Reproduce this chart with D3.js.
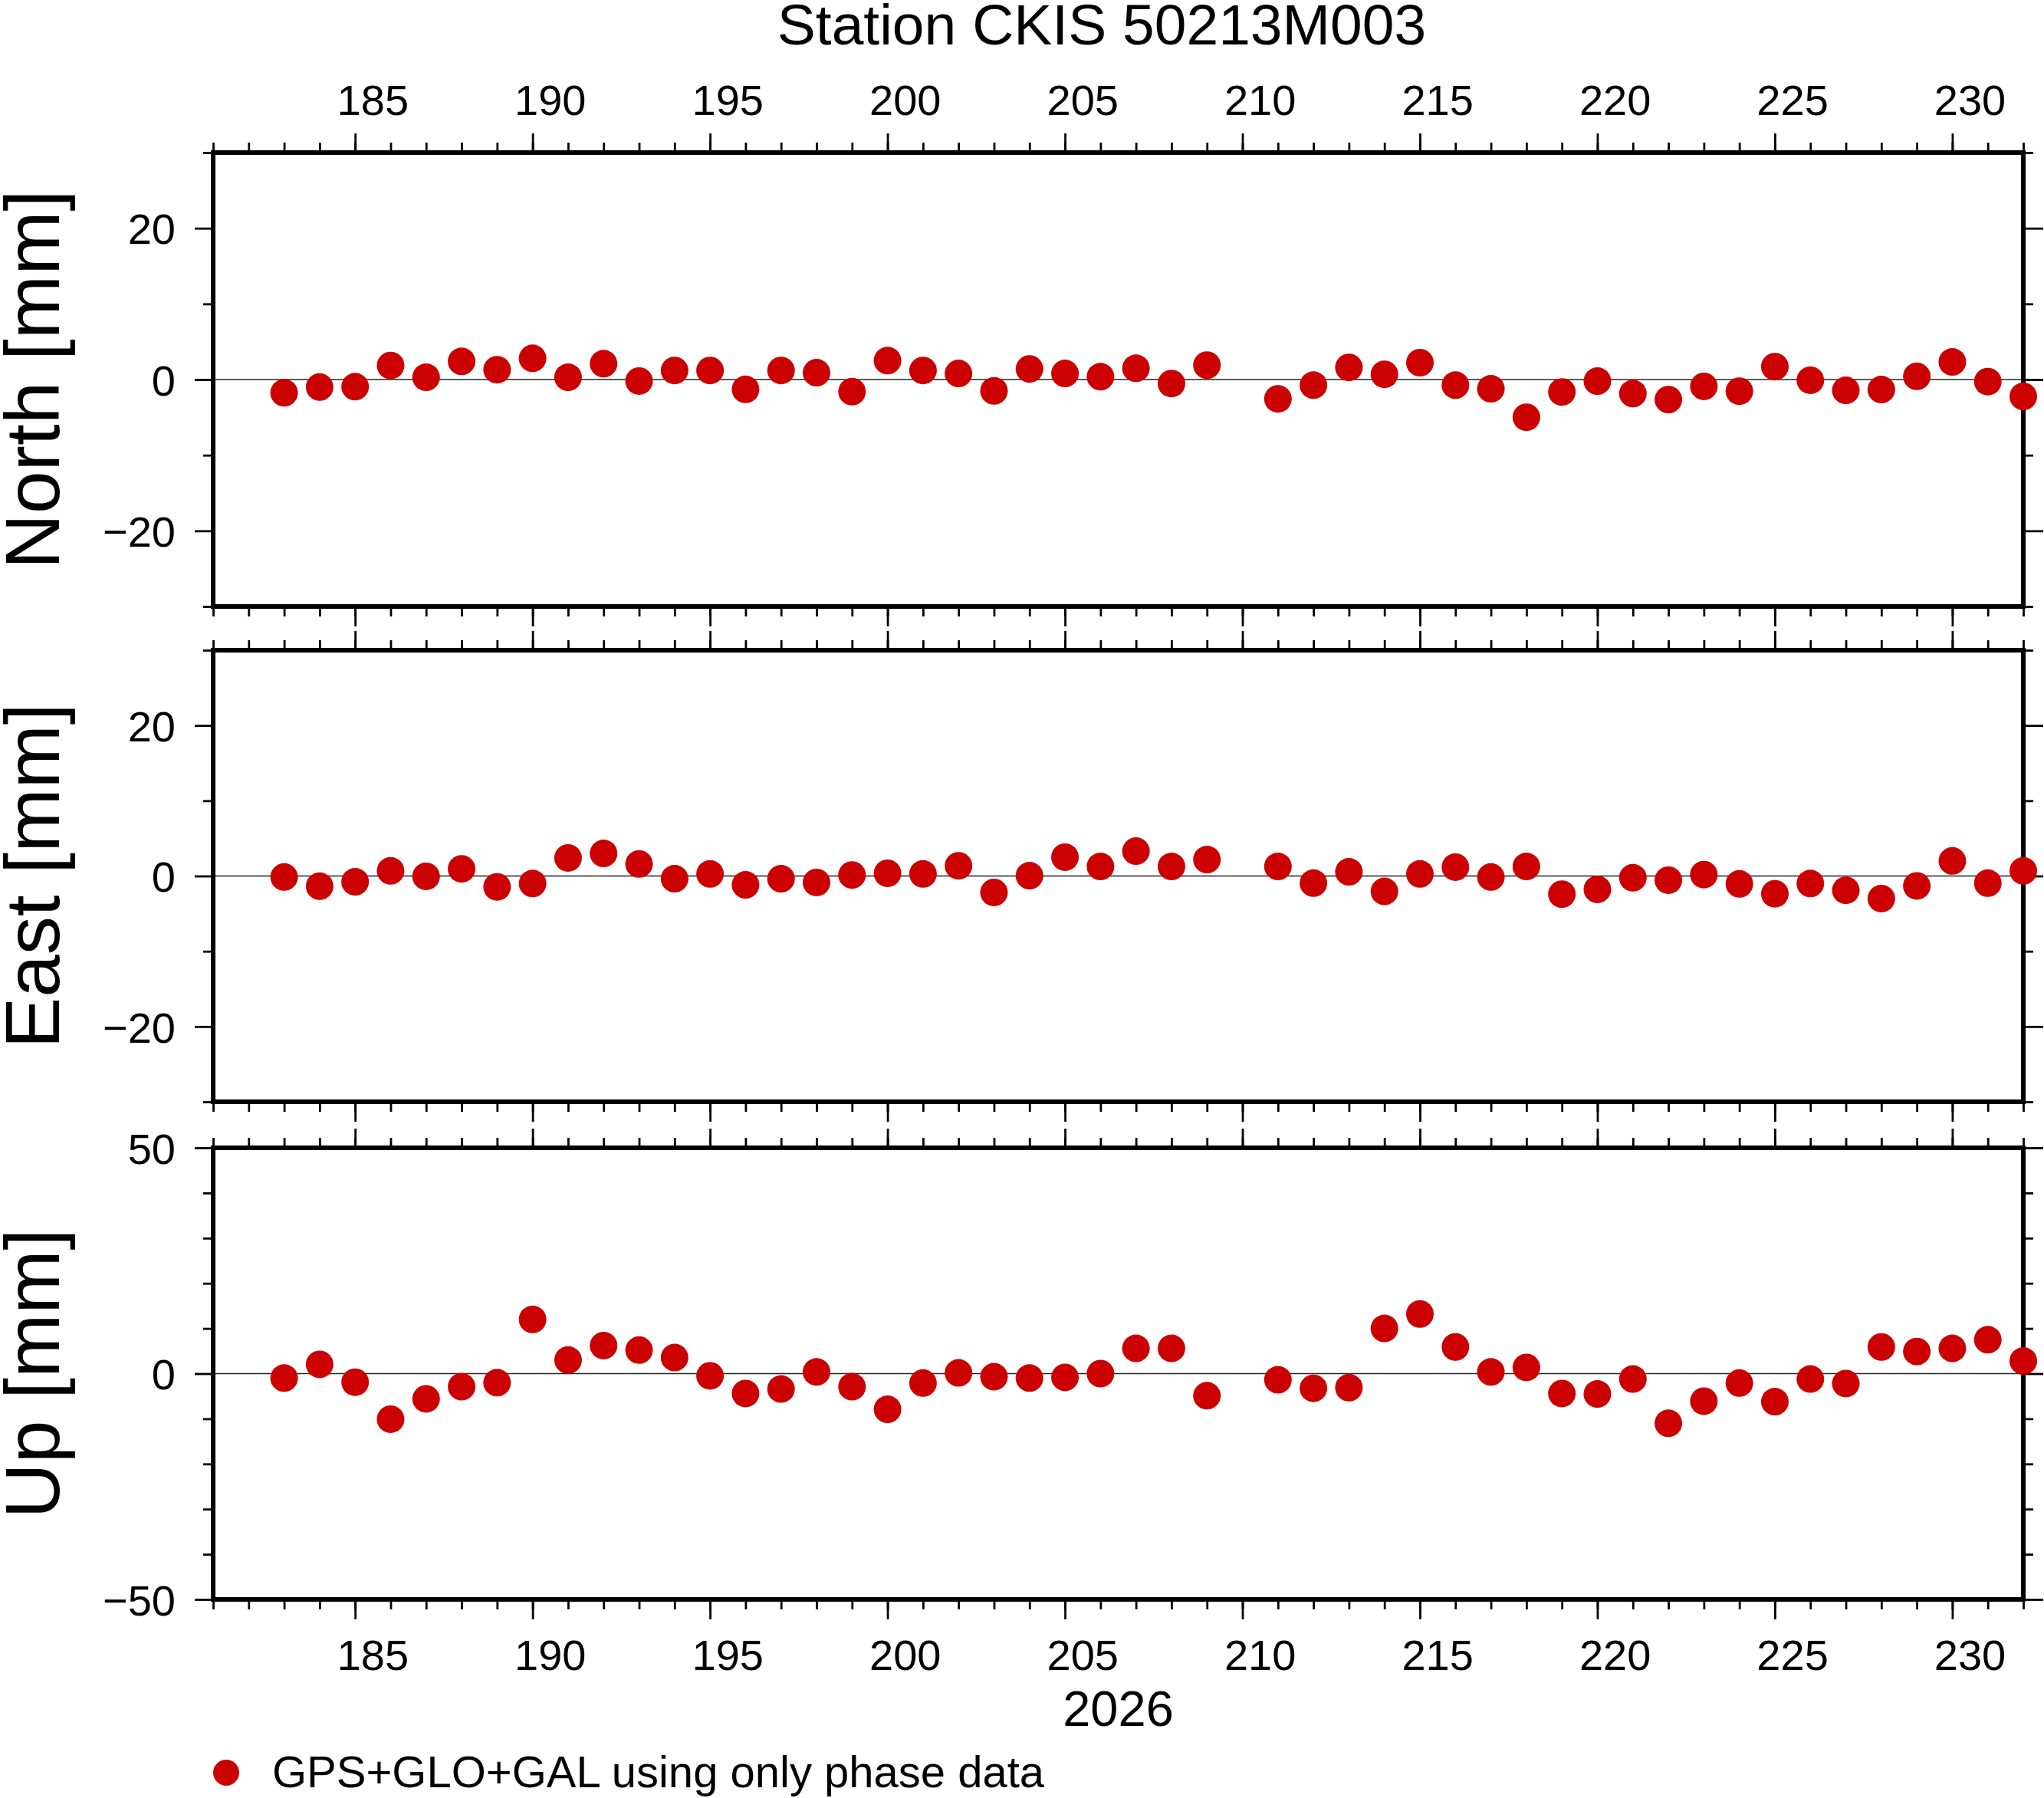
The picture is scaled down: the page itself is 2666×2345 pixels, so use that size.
<!DOCTYPE html>
<html>
<head>
<meta charset="utf-8">
<script src="https://cdn.jsdelivr.net/npm/d3@7"></script>
<style>
  body { margin: 0; background: #fff; }
  svg { display: block; font-family: "Liberation Sans", Arial, Helvetica, sans-serif; }
  .tick line { stroke: #000; stroke-width: 2.8; }
  .tick text { fill: #000; }
</style>
</head>
<body>
<div id="chart"></div>
<script>
// day of year 2026, day 210 has no solution
const days = [183, 184, 185, 186, 187, 188, 189, 190, 191, 192, 193, 194, 195, 196, 197, 198, 199, 200, 201, 202, 203, 204, 205, 206, 207, 208, 209,
    211, 212, 213, 214, 215, 216, 217, 218, 219, 220, 221, 222, 223, 224, 225, 226, 227, 228, 229, 230, 231, 232];

const north = [-1.75, -1.0, -0.95, 1.86, 0.3, 2.4, 1.3, 2.8, 0.3, 2.1, -0.2, 1.2, 1.2, -1.3, 1.2, 0.9, -1.6, 2.5, 1.2, 0.8, -1.5, 1.4, 0.8, 0.37, 1.49, -0.53, 1.9,
    -2.55, -0.74, 1.6, 0.69, 2.23, -0.74, -1.22, -4.99, -1.64, -0.21, -1.86, -2.65, -0.9, -1.54, 1.7, -0.1, -1.43, -1.33, 0.42, 2.33, -0.27, -2.23];

const east = [-0.14, -1.36, -0.77, 0.68, -0.05, 0.95, -1.45, -1.0, 2.4, 3.0, 1.6, -0.36, 0.27, -1.18, -0.36, -0.86, 0.14, 0.36, 0.27, 1.36, -2.18, 0.05, 2.5, 1.27, 3.3, 1.27, 2.18,
    1.27, -0.95, 0.55, -2.05, 0.27, 1.18, -0.14, 1.27, -2.41, -1.77, -0.23, -0.55, 0.18, -1.05, -2.36, -1.0, -1.9, -3.0, -1.32, 2.0, -0.95, 0.68];

const up = [-0.98, 2.04, -1.9, -10.1, -5.6, -2.9, -2.0, 12.0, 3.0, 6.2, 5.2, 3.55, -0.5, -4.4, -3.4, 0.38, -2.9, -7.9, -2.1, 0.15, -0.7, -0.98, -0.83, 0.0, 5.6, 5.6, -4.9,
    -1.36, -3.25, -3.1, 10.0, 13.2, 5.9, 0.38, 1.36, -4.4, -4.5, -1.2, -11.0, -6.1, -2.1, -6.2, -1.2, -2.2, 5.9, 4.9, 5.6, 7.5, 2.8];

const xDomain = [181, 232];
const xMajor = [185, 190, 195, 200, 205, 210, 215, 220, 225, 230];
const xMinor = d3.range(181, 233);
const yearLabel = "2026";
const title = "Station CKIS 50213M003";
const legendText = "GPS+GLO+GAL using only phase data";

const panels = [
    { name: "North [mm]", values: north, domain: [-30, 30], major: [-20, 0, 20], minor: [-30, -10, 10, 30], top: 199, bottom: 791 },
    { name: "East [mm]", values: east, domain: [-30, 30], major: [-20, 0, 20], minor: [-30, -10, 10, 30], top: 848, bottom: 1437 },
    { name: "Up [mm]", values: up, domain: [-50, 50], major: [-50, 0, 50], minor: [-40, -30, -20, -10, 10, 20, 30, 40], top: 1497, bottom: 2086 },
];

const width = 2666;
const height = 2345;
const left = 278;
const right = 2639;
const red = "#cc0000";

const svg = d3.select("#chart")
    .append("svg")
    .attr("width", width)
    .attr("height", height);

svg.append("rect").attr("width", width).attr("height", height).attr("fill", "#fff");

const x = d3.scaleLinear().domain(xDomain).range([left, right]);

const fmt = d => d < 0 ? "\u2212" + Math.abs(d) : String(d);

function tidy(g) {
    g.select(".domain").remove();
}

panels.forEach((p, idx) => {
    const y = d3.scaleLinear().domain(p.domain).range([p.bottom, p.top]);
    const g = svg.append("g");

    // x ticks on top and bottom of every panel
    g.append("g").attr("transform", `translate(0,${p.top})`)
        .call(d3.axisTop(x).tickValues(xMinor).tickSize(13).tickFormat("")).call(tidy);
    g.append("g").attr("transform", `translate(0,${p.top})`)
        .call(d3.axisTop(x).tickValues(xMajor).tickSize(25).tickFormat("")).call(tidy);
    g.append("g").attr("transform", `translate(0,${p.bottom})`)
        .call(d3.axisBottom(x).tickValues(xMinor).tickSize(13).tickFormat("")).call(tidy);
    g.append("g").attr("transform", `translate(0,${p.bottom})`)
        .call(d3.axisBottom(x).tickValues(xMajor).tickSize(26).tickFormat("")).call(tidy);

    // y ticks left (labelled) and right
    g.append("g").attr("transform", `translate(${left},0)`)
        .call(d3.axisLeft(y).tickValues(p.minor).tickSize(13).tickFormat("")).call(tidy);
    g.append("g").attr("transform", `translate(${left},0)`)
        .call(d3.axisLeft(y).tickValues(p.major).tickSize(24).tickPadding(25).tickFormat(fmt))
        .call(tidy)
        .call(a => a.selectAll("text").attr("font-size", 56).attr("dy", "0.36em"));
    g.append("g").attr("transform", `translate(${right},0)`)
        .call(d3.axisRight(y).tickValues(p.minor).tickSize(13).tickFormat("")).call(tidy);
    g.append("g").attr("transform", `translate(${right},0)`)
        .call(d3.axisRight(y).tickValues(p.major).tickSize(26).tickFormat("")).call(tidy);

    // zero line
    g.append("line")
        .attr("x1", left).attr("x2", right)
        .attr("y1", y(0)).attr("y2", y(0))
        .attr("stroke", "#222").attr("stroke-width", 1.5);

    // frame
    g.append("rect")
        .attr("x", left).attr("y", p.top)
        .attr("width", right - left).attr("height", p.bottom - p.top)
        .attr("fill", "none").attr("stroke", "#000").attr("stroke-width", 6);

    // points
    g.selectAll("circle.pt")
        .data(days.map((d, i) => ({ day: d, v: p.values[i] })))
        .enter()
        .append("circle")
        .attr("class", "pt")
        .attr("cx", d => x(d.day))
        .attr("cy", d => y(d.v))
        .attr("r", 18)
        .attr("fill", red);

    // component label
    g.append("text")
        .attr("transform", `translate(77,${(p.top + p.bottom) / 2}) rotate(-90)`)
        .attr("text-anchor", "middle")
        .attr("font-size", 100)
        .text(p.name);

    // day labels sit in the middle of the day interval
    if (idx === 0) {
        g.selectAll("text.xl")
            .data(xMajor)
            .enter()
            .append("text")
            .attr("class", "xl")
            .attr("x", d => x(d + 0.5))
            .attr("y", p.top - 49)
            .attr("text-anchor", "middle")
            .attr("font-size", 56)
            .text(d => d);
    }
    if (idx === panels.length - 1) {
        g.selectAll("text.xl")
            .data(xMajor)
            .enter()
            .append("text")
            .attr("class", "xl")
            .attr("x", d => x(d + 0.5))
            .attr("y", p.bottom + 92)
            .attr("text-anchor", "middle")
            .attr("font-size", 56)
            .text(d => d);
        svg.append("text")
            .attr("x", (left + right) / 2)
            .attr("y", p.bottom + 165)
            .attr("text-anchor", "middle")
            .attr("font-size", 65)
            .text(yearLabel);
    }
});

svg.append("text")
    .attr("x", 1437)
    .attr("y", 58)
    .attr("text-anchor", "middle")
    .attr("font-size", 75)
    .text(title);

// legend
svg.append("circle").attr("cx", 295).attr("cy", 2312).attr("r", 17).attr("fill", red);
svg.append("text")
    .attr("x", 355)
    .attr("y", 2331)
    .attr("font-size", 58)
    .text(legendText);
</script>
</body>
</html>
